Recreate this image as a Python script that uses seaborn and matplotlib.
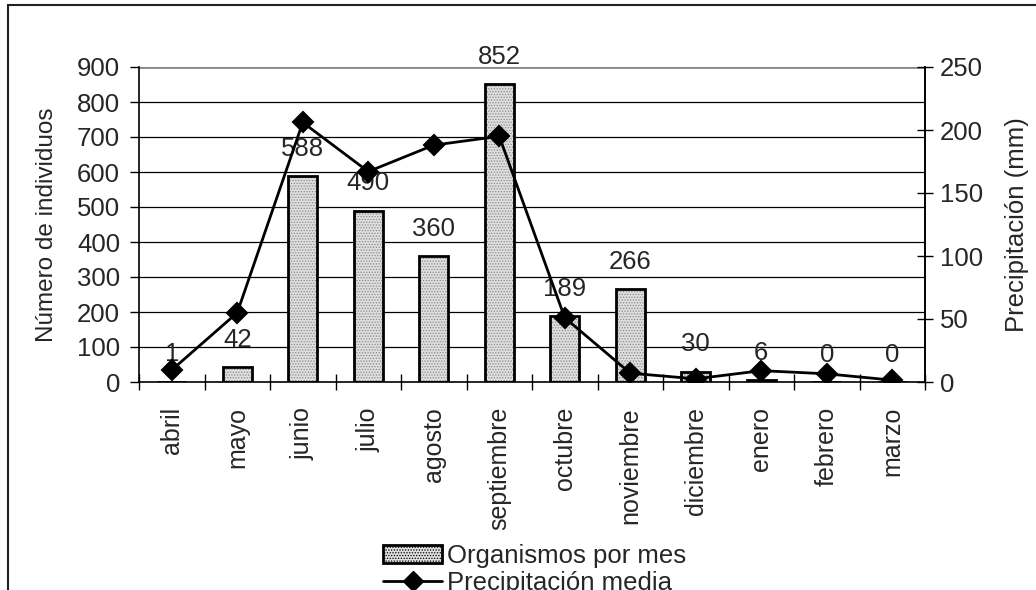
import matplotlib
matplotlib.use("Agg")
import matplotlib.pyplot as plt
import seaborn as sns
from matplotlib.patches import Rectangle, Patch
from matplotlib.lines import Line2D

meses = ["abril", "mayo", "junio", "julio", "agosto", "septiembre",
         "octubre", "noviembre", "diciembre", "enero", "febrero", "marzo"]
organismos = [1, 42, 588, 490, 360, 852, 189, 266, 30, 6, 0, 0]
precipitacion = [9.5, 55, 206, 167, 188, 195, 51, 7, 2.5, 9, 6.5, 1.5]

FS = 18.5

sns.set_theme(style="white")
plt.rcParams["font.family"] = ["Liberation Sans", "DejaVu Sans"]
plt.rcParams["hatch.linewidth"] = 0.6

fig = plt.figure(figsize=(10.36, 5.90), dpi=100)
ax = fig.add_axes([139/1036, 1-382/590, (925-139)/1036, (382-67)/590])

# relleno punteado + contorno negro
sns.barplot(x=meses, y=organismos, ax=ax, color="#dedede", edgecolor="#8a8a8a",
            hatch="......", linewidth=0, width=0.44, zorder=2)
sns.barplot(x=meses, y=organismos, ax=ax, fill=False, color="black",
            linewidth=2, width=0.44, zorder=3)
ax.bar_label(ax.containers[0], labels=[str(v) for v in organismos],
             padding=11, fontsize=FS)

ax.set_ylim(0, 900)
ax.set_yticks(range(0, 901, 100))
ax.set_xlim(-0.5, 11.5)
for y in range(100, 900, 100):
    ax.axhline(y, color="black", lw=0.9, zorder=1)
ax.axhline(900, color="#888888", lw=2, zorder=1)

ax.spines["top"].set_visible(False)
for s in ["left", "right", "bottom"]:
    ax.spines[s].set_color("black")
    ax.spines[s].set_linewidth(1.2)

ax.set_xticks(range(len(meses)))
ax.set_xticklabels(meses, rotation=90, fontsize=FS - 0.5)
ax.set_xticks([i - 0.5 for i in range(len(meses) + 1)], minor=True)
ax.tick_params(axis="x", which="major", length=0, pad=18)
ax.tick_params(axis="x", which="minor", length=11, direction="inout",
               width=1, color="black", bottom=True)
ax.tick_params(axis="y", length=6.5, direction="out", width=1, color="black",
               labelsize=FS, pad=7, left=True)
ax.set_ylabel("Número de individuos", fontsize=FS - 1, labelpad=14)
ax.set_xlabel("")

ax2 = ax.twinx()
sns.pointplot(x=meses, y=precipitacion, ax=ax2, color="black", markers="D",
              markersize=10, linewidth=2)
ax2.set_ylim(0, 250)
ax2.set_yticks(range(0, 251, 50))
ax2.set_xlim(-0.5, 11.5)
ax2.tick_params(axis="y", length=11, direction="inout", width=1, color="black",
                labelsize=FS, pad=5, right=True)
ax2.set_ylabel("Precipitación (mm)", fontsize=FS, labelpad=16)
ax2.set_xlabel("")
for s in ["top", "left", "bottom"]:
    ax2.spines[s].set_visible(False)
ax2.spines["right"].set_color("black")
ax2.spines["right"].set_linewidth(1.2)

handles = [Patch(facecolor="#dedede", edgecolor="black", linewidth=2, hatch="......"),
           Line2D([], [], color="black", lw=2, marker="D", markersize=10)]
fig.legend(handles, ["Organismos por mes", "Precipitación media"],
           loc="upper left", bbox_to_anchor=(383/1036, 1-544/590),
           frameon=False, fontsize=FS, handlelength=2.3, handleheight=0.7,
           labelspacing=0.1, borderpad=0, borderaxespad=0, handletextpad=0.2)

fig.patches.append(Rectangle((8/1036, -0.1), 1.2, 1.1 - 5/590,
                             transform=fig.transFigure, fill=False,
                             edgecolor="#222222", linewidth=1.5))

fig.savefig("out.png", dpi=100)
